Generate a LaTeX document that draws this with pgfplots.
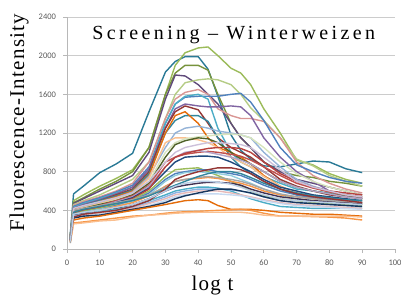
\documentclass[border=0pt]{standalone}
\usepackage{fontspec}
\setmainfont{Liberation Serif}
\newfontfamily\tickfont{Carlito}
\newfontfamily\titlefont[LetterSpace=17]{Liberation Serif}
\newfontfamily\labfont[LetterSpace=6]{Liberation Serif}
\usepackage{pgfplots}
\usepackage{pgfplotstable}
\pgfplotsset{compat=1.18}

\definecolor{c1}{HTML}{2A7A96}
\definecolor{c2}{HTML}{9BBB59}
\definecolor{c3}{HTML}{77933C}
\definecolor{c4}{HTML}{604A7B}
\definecolor{c5}{HTML}{B5CC85}
\definecolor{c6}{HTML}{D99694}
\definecolor{c7}{HTML}{4F81BD}
\definecolor{c8}{HTML}{4BACC6}
\definecolor{c9}{HTML}{8064A2}
\definecolor{c10}{HTML}{953735}
\definecolor{c11}{HTML}{31859C}
\definecolor{c12}{HTML}{E46C0A}
\definecolor{c13}{HTML}{95B3D7}
\definecolor{c14}{HTML}{FAC090}
\definecolor{c15}{HTML}{D7E4BD}
\definecolor{c16}{HTML}{4F6228}
\definecolor{c17}{HTML}{C0504D}
\definecolor{c18}{HTML}{B3A2C7}
\definecolor{c19}{HTML}{1F497D}
\definecolor{c20}{HTML}{B7413E}
\definecolor{c21}{HTML}{9BBB59}
\definecolor{c22}{HTML}{4F81BD}
\definecolor{c23}{HTML}{93CDDD}
\definecolor{c24}{HTML}{F79646}
\definecolor{c25}{HTML}{403152}
\definecolor{c26}{HTML}{4BACC6}
\definecolor{c27}{HTML}{8EB4E3}
\definecolor{c28}{HTML}{E6B9B8}
\definecolor{c29}{HTML}{C6D9F1}
\definecolor{c30}{HTML}{17375E}
\definecolor{c31}{HTML}{E46C0A}
\definecolor{c32}{HTML}{F79646}
\definecolor{c33}{HTML}{FABF8F}
\definecolor{c34}{HTML}{A5A5A5}
\definecolor{c35}{HTML}{CCC0DA}
\definecolor{c36}{HTML}{31859C}
\definecolor{c37}{HTML}{943634}
\definecolor{c38}{HTML}{B9CDE5}

\pgfplotstableread{
id 1 2 5 10 15 20 25 30 33 36 40 43 46 50 53 56 60 65 70 75 80 85 90
s1 150 570 650 790 880 990 1420 1830 1940 1990 1990 1860 1580 1180 1020 930 860 850 880 910 900 830 790
s2 130 500 560 650 730 820 1050 1600 1900 2030 2080 2090 2000 1870 1820 1700 1450 1200 920 870 780 720 680
s3 130 480 530 620 700 800 1050 1600 1820 1900 1900 1850 1600 1300 1150 1050 900 800 760 740 700 680 650
s4 140 470 520 600 680 760 1000 1550 1800 1790 1700 1600 1500 1300 1150 1050 900 800 720 680 640 600 560
s5 120 460 500 560 640 720 900 1350 1600 1720 1750 1760 1750 1700 1600 1460 1330 1150 930 860 760 700 650
s6 120 450 490 540 600 680 900 1350 1550 1620 1650 1600 1450 1380 1350 1350 1320 1150 900 760 680 620 580
s7 120 440 480 530 590 660 850 1300 1500 1570 1580 1580 1580 1600 1610 1520 1330 1050 870 800 740 700 680
s8 120 430 470 520 580 640 820 1300 1500 1580 1600 1550 1250 1000 900 850 750 680 620 600 580 560 540
s9 110 420 460 510 570 640 830 1250 1450 1500 1480 1470 1470 1480 1470 1380 1150 950 800 700 600 560 530
s10 110 420 450 500 560 620 800 1250 1420 1480 1440 1300 1150 1050 1000 950 850 720 650 600 560 540 520
s11 110 410 450 500 550 610 780 1200 1330 1380 1380 1320 1150 950 850 780 700 620 560 530 500 480 460
s12 110 410 440 490 540 600 760 1200 1380 1420 1300 1150 1050 1000 950 880 760 650 580 550 520 500 480
s13 110 400 440 480 530 590 750 1050 1200 1250 1270 1250 1220 1200 1180 1150 1000 850 720 650 600 560 520
s14 100 400 430 470 520 580 730 1100 1150 1150 1130 1100 1050 950 900 850 750 650 580 550 520 500 480
s15 100 390 420 460 510 570 700 1000 1100 1140 1160 1170 1180 1190 1180 1150 1050 900 780 700 640 600 560
s16 100 390 420 460 500 560 680 950 1080 1120 1150 1140 1100 1000 930 880 800 700 640 600 570 550 520
s17 100 380 410 450 500 550 660 900 950 980 1000 1010 1000 980 960 920 850 760 680 630 590 560 540
s18 100 380 400 440 490 540 650 850 950 1000 1020 1000 980 950 920 880 800 700 640 600 570 540 520
s19 100 370 400 440 480 530 630 800 900 950 960 960 950 900 850 800 720 640 600 560 540 520 500
s20 100 370 400 430 470 520 620 850 950 990 1020 1040 1050 1050 1040 1000 900 780 700 640 600 580 560
s21 100 360 390 420 460 510 600 750 820 830 840 800 760 700 650 600 550 520 500 480 470 460 450
s22 100 360 380 410 450 500 580 720 780 800 820 820 800 780 760 720 660 600 560 530 510 500 480
s23 100 350 380 410 440 490 560 700 760 790 800 790 780 760 720 680 620 560 520 500 480 470 460
s24 100 350 370 400 440 480 550 650 700 720 730 740 730 700 680 650 600 560 540 520 500 480 470
s25 90 350 370 390 420 460 520 600 640 660 680 690 690 680 660 620 580 540 520 500 490 480 470
s26 90 340 360 390 410 440 500 560 600 620 640 640 630 600 560 520 480 440 430 420 420 420 420
s27 90 340 360 380 400 430 480 540 580 600 620 620 620 610 600 580 540 500 480 470 460 450 440
s28 90 330 350 370 390 420 470 520 560 580 600 600 600 580 560 540 510 480 460 450 440 430 420
s29 80 330 340 360 380 400 450 500 540 560 570 570 570 560 550 530 500 470 450 440 430 420 410
s30 80 320 340 350 380 410 440 480 520 550 580 600 620 620 600 580 540 500 480 470 460 450 440
s31 80 300 320 340 370 400 430 460 480 500 510 500 450 410 410 410 400 380 370 360 360 350 340
s32 70 270 280 300 320 340 350 370 380 385 390 395 400 405 410 400 370 340 340 335 330 320 300
s33 70 260 270 290 300 330 350 360 370 375 380 380 380 380 380 370 350 340 340 340 340 340 330
s34 60 400 420 450 480 510 560 640 700 720 740 750 740 720 700 670 620 570 540 520 500 490 480
s35 100 420 450 490 530 580 700 900 1000 1050 1080 1100 1100 1090 1080 1050 950 820 700 640 600 560 540
s36 100 380 410 440 470 500 550 620 660 700 750 780 800 800 780 740 680 620 580 550 530 510 500
s37 90 330 360 380 400 440 500 620 720 760 800 820 840 840 820 780 700 620 570 540 520 500 480
s38 80 360 380 400 430 460 520 600 650 680 700 700 690 670 640 600 560 520 500 490 480 470 460
}\rawdata
\pgfplotstabletranspose[colnames from=id, input colnames to=xv]\curves\rawdata

\begin{document}
\begin{tikzpicture}
\begin{axis}[
  name=ax,
  scale only axis, width=328bp, height=232bp,
  xmin=0, xmax=100, ymin=0, ymax=2400,
  xtick={0,10,...,100}, ytick={0,400,...,2400},
  scaled ticks=false,
  /pgf/number format/1000 sep={},
  /pgf/number format/assume math mode=true,
  axis x line*=bottom, axis y line*=left,
  axis line style={draw=black!28, line width=0.7bp, -},
  ymajorgrids, grid style={draw=black!20, line width=0.7bp},
  tick align=outside, major tick length=3.5bp,
  tick style={draw=black!28, line width=0.7bp},
  ticklabel style={font=\tickfont\fontsize{8.5bp}{10bp}\selectfont, text=black!65},
  xticklabel style={yshift=-4bp},
  yticklabel style={xshift=-4bp},
  xlabel={log t},
  xlabel style={font=\labfont\fontsize{21bp}{24bp}\selectfont, at={(axis description cs:0.4436,0)}, anchor=base, yshift=-41bp, inner sep=0pt},
  ylabel={Fluorescence-Intensity},
  ylabel style={font=\labfont\fontsize{21bp}{24bp}\selectfont, at={(axis description cs:-0.131,0.545)}, anchor=base, inner sep=0pt},
  clip=false,
]
\pgfplotsinvokeforeach{1,...,38}{
  \addplot[color=c#1, line width=1.4bp, line join=round, mark=none] table[x=xv, y=s#1]{\curves};
}
\node[font=\titlefont\fontsize{20bp}{24bp}\selectfont, anchor=base west, inner sep=0pt] at (axis cs:7.7,2169) {Screening – Winterweizen};
\end{axis}
\pgfresetboundingbox
\path[use as bounding box] ([xshift=-67bp,yshift=-46bp]ax.south west) rectangle ([xshift=6bp,yshift=17bp]ax.north east);
\end{tikzpicture}
\end{document}
